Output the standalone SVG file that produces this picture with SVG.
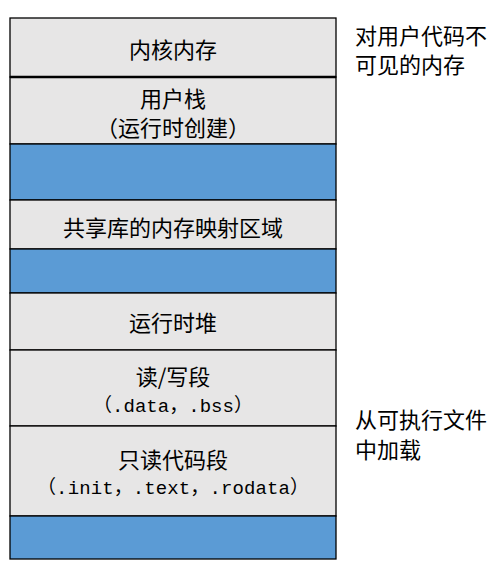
<svg xmlns="http://www.w3.org/2000/svg" width="492" height="568" viewBox="0 0 492 568">
<style>
.g{fill:#E7E6E6;stroke:#000;stroke-width:1.3}
.b{fill:#5B9BD5;stroke:#000;stroke-width:1.3}
text{font-family:"Noto Sans CJK SC","Liberation Sans",sans-serif;font-size:22px;fill:#000}
.c{text-anchor:middle}
.m{font-family:"Liberation Mono","Noto Sans CJK SC",monospace;font-size:19px}
</style>
<rect width="492" height="568" fill="#fff"/>
<g id="kernel"><rect class="g" x="10" y="18" width="326" height="59"/><text class="c" x="173" y="57.5">内核内存</text></g>
<g id="user-stack"><rect class="g" x="10" y="77" width="326" height="67"/><text class="c" x="173" y="106.5">用户栈</text><text class="c" x="173" y="136">（运行时创建）</text></g>
<g id="gap1"><rect class="b" x="10" y="144" width="326" height="56"/></g>
<g id="shared-lib"><rect class="g" x="10" y="200" width="326" height="49"/><text class="c" x="173" y="235.5">共享库的内存映射区域</text></g>
<g id="gap2"><rect class="b" x="10" y="249" width="326" height="44"/></g>
<g id="heap"><rect class="g" x="10" y="293" width="326" height="57"/><text class="c" x="173" y="331">运行时堆</text></g>
<g id="rw"><rect class="g" x="10" y="350" width="326" height="76"/><text class="c" x="173" y="384.5">读/写段</text><text class="c m" x="173" y="412" textLength="160" lengthAdjust="spacing">（.data，.bss）</text></g>
<g id="ro"><rect class="g" x="10" y="426" width="326" height="90"/><text class="c" x="173" y="468">只读代码段</text><text class="c m" x="173" y="494" textLength="272" lengthAdjust="spacing">（.init，.text，.rodata）</text></g>
<g id="gap3"><rect class="b" x="10" y="516" width="326" height="43"/></g>
<g id="connectors"><line x1="10" y1="77" x2="336" y2="77" stroke="#000" stroke-width="2.7"/></g>
<g id="note-kernel"><text x="355" y="43.5">对用户代码不</text><text x="355" y="72.5">可见的内存</text></g>
<g id="note-exec"><text x="355" y="427.5">从可执行文件</text><text x="355" y="457.5">中加载</text></g>
</svg>
